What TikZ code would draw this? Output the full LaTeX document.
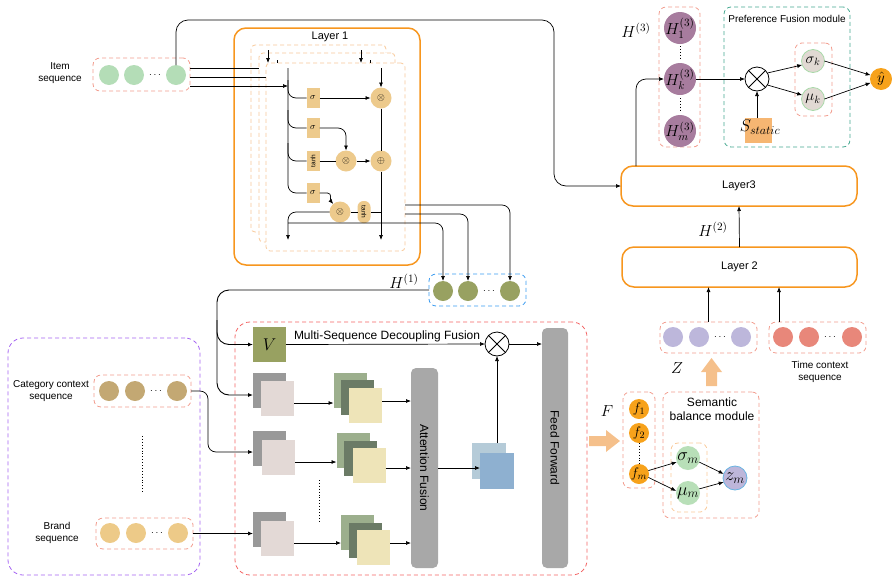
\RequirePackage{fix-cm}
\documentclass[tikz,border=0pt]{standalone}
\usepackage[no-math]{fontspec}
\setmainfont{Liberation Sans}
\usepackage{graphicx}
\usetikzlibrary{arrows.meta,calc}
\definecolor{salm}{HTML}{F29C8E}
\definecolor{redd}{HTML}{F36464}
\definecolor{lorange}{HTML}{F7961E}
\definecolor{peach}{HTML}{F9C999}
\definecolor{purp}{HTML}{A463F2}
\definecolor{teal2}{HTML}{45A890}
\definecolor{bluedash}{HTML}{3A9BF0}
\definecolor{itemg}{HTML}{B4DDB7}
\definecolor{olive}{HTML}{98A161}
\definecolor{tanc}{HTML}{EDCA8C}
\definecolor{catc}{HTML}{C3A873}
\definecolor{brandc}{HTML}{EDCA88}
\definecolor{lav}{HTML}{BDB7DB}
\definecolor{timec}{HTML}{E8877A}
\definecolor{mauve}{HTML}{A77C9E}
\definecolor{sigk}{HTML}{E1D9D3}
\definecolor{sigkb}{HTML}{A9D9A9}
\definecolor{yhat}{HTML}{F7A21B}
\definecolor{sigm}{HTML}{B8DFB8}
\definecolor{zmc}{HTML}{BDB6DA}
\definecolor{zmb}{HTML}{6AB4E2}
\definecolor{sstat}{HTML}{F6B672}
\definecolor{bigarr}{HTML}{F5C08B}
\definecolor{grayA}{HTML}{999999}
\definecolor{pinkA}{HTML}{E3D9D6}
\definecolor{gr1}{HTML}{9CAF8D}
\definecolor{gr2}{HTML}{6B7B66}
\definecolor{cream}{HTML}{EEE4B8}
\definecolor{bl1}{HTML}{B5CBD8}
\definecolor{bl2}{HTML}{8EB0D0}
\definecolor{barg}{HTML}{A8A8A8}
\begin{document}
\begin{tikzpicture}[x=1pt,y=-1pt,
  every node/.style={inner sep=0pt, outer sep=0pt},
  ln/.style={line width=0.7pt},
  arr/.style={line width=0.7pt,-{Latex[length=5pt,width=4pt]}},
  dbox/.style={draw=#1, dash pattern=on 4pt off 3pt, line width=0.8pt, rounded corners=7pt},
  seqdot/.style={circle, minimum size=20pt, fill=#1},
  gate/.style={fill=tanc, minimum width=13pt, minimum height=20pt, font=\fontsize{9}{9}\selectfont},
  opc/.style={circle, fill=tanc, minimum size=21pt, font=\fontsize{10}{10}\selectfont},
  layerbox/.style={draw=lorange, line width=1.5pt, rounded corners=12pt, fill=white},
  lbl/.style={font=\fontsize{10}{12}\selectfont, align=center},
  sq/.style={minimum width=33pt, minimum height=35pt, fill=#1},
  bar/.style={fill=barg, rounded corners=5pt},
  mlbl/.style={font=\fontsize{16}{16}\selectfont},
  xcirc/.style={circle, draw, fill=white, line width=0.8pt, minimum size=24pt,
    path picture={\draw[line width=0.8pt] (path picture bounding box.north west) -- (path picture bounding box.south east)
      (path picture bounding box.north east) -- (path picture bounding box.south west);}},
]
\useasboundingbox (0,0) rectangle (892,579);

% ---------------- Item sequence ----------------
\node[dbox=salm, minimum width=97pt, minimum height=33pt] (itembox) at (141.5,74.5) {};
\node[seqdot=itemg] (i1) at (109,75) {};
\node[seqdot=itemg] (i2) at (134,75) {};
\node[seqdot=itemg] (i3) at (176,75) {};
\node (idots) at (155,75) {$\cdots$};
\node[lbl] (itemlbl) at (60,73) {Item\\sequence};

% ---------------- Layer 1 ----------------
\node[layerbox, minimum width=186pt, minimum height=237pt] (l1) at (327,146.5) {};
\node[font=\fontsize{11}{11}\selectfont] (l1t) at (330,37) {Layer 1};
\node[dbox=peach, fill=white, rounded corners=4pt, minimum width=135pt, minimum height=187pt] (r1) at (318.5,138.5) {};
\node[dbox=peach, fill=white, rounded corners=4pt, minimum width=136pt, minimum height=189pt] (r2) at (327,147.5) {};
\node[dbox=peach, fill=white, rounded corners=4pt, minimum width=139pt, minimum height=188pt] (r3) at (335.5,157) {};

\coordinate (sa1) at (268,50); \coordinate (sa1e) at (268,63);
\coordinate (sa2) at (361,50); \coordinate (sa2e) at (361,63);
\coordinate (st1) at (277,60); \coordinate (st1e) at (277,63);
\coordinate (st2) at (370,60); \coordinate (st2e) at (370,63);
\draw[arr] (sa1) -- (sa1e);
\draw[arr] (sa2) -- (sa2e);
\draw[ln] (st1) -- (st1e);
\draw[ln] (st2) -- (st2e);

% inputs from item sequence
\draw[ln] ($(itembox.east)+(0,-6.5)$) coordinate (in1) -- (in1 -| r2.west);
\draw[ln] ($(itembox.east)+(0,2.5)$) coordinate (in2) -- (in2 -| r3.west);
\coordinate (top1) at (288,68);
\coordinate (top2) at (381,68);
\draw[arr] ($(itembox.east)+(0,11.5)$) coordinate (in3) -- (in3 -| top1);

\node[gate] (g1) at (313,98) {$\sigma$};
\node[gate] (g2) at (313,128) {$\sigma$};
\node[gate, font=\fontsize{6.5}{6.5}\selectfont] (gt) at (313,161) {\rotatebox{90}{tanh}};
\node[gate] (g3) at (313,193) {$\sigma$};
\node[opc] (m1) at (381,98) {$\otimes$};
\node[opc] (m2) at (346,161) {$\otimes$};
\node[opc] (p1) at (381,161) {$\oplus$};
\node[opc] (m3) at (340,212) {$\otimes$};
\node[fill=tanc, rounded corners=6pt, minimum width=13pt, minimum height=22pt, font=\fontsize{6.5}{6.5}\selectfont] (th) at (364,212) {\rotatebox{-90}{tanh}};

\coordinate (b1) at (288,80);
\coordinate (b2) at (288,110);
\coordinate (b3) at (288,143);
\coordinate (bot1) at (288,240);
\coordinate (bot2) at (381,240);
\draw[ln, rounded corners=8pt] (top1) |- (g3.west);
\draw[ln, rounded corners=8pt] (b1) |- (g1.west);
\draw[ln, rounded corners=8pt] (b2) |- (g2.west);
\draw[ln, rounded corners=8pt] (b3) |- (gt.west);
\draw[arr] (top2) -- (m1);
\draw[arr] (g1) -- (m1);
\draw[arr, rounded corners=8pt] (g2.east) -| (m2.north);
\draw[ln] (gt) -- (m2);
\draw[arr] (m2) -- (p1);
\draw[ln] (m1) -- (p1);
\draw[arr] (p1) -- (bot2);
\draw[ln] (th.east) -- (th.east -| p1);
\draw[arr] (g3.east) -- ++(8,0) to[out=0,in=130] (m3.130);
\draw[ln] (m3) -- (th);
\draw[arr, rounded corners=8pt] (m3.west) -| (bot1);

% ---------------- H1 ----------------
\node[dbox=bluedash, minimum width=97pt, minimum height=32pt] (h1box) at (477.5,290) {};
\node[seqdot=olive] (h1a) at (443,291) {};
\node[seqdot=olive] (h1b) at (468,291) {};
\node[seqdot=olive] (h1c) at (510,291) {};
\node (h1dots) at (489,291) {$\cdots$};
\node[mlbl] (h1lbl) at (404,281) {$H^{(1)}$};
\coordinate (o1) at (288,223);
\coordinate (o2) at (405,214);
\coordinate (o3) at (405,205);
\draw[arr, rounded corners=8pt] (o1) -| (h1a.north);
\draw[arr, rounded corners=8pt] (o2) -| (h1b.north);
\draw[arr, rounded corners=8pt] (o3) -| (h1c.north);

% ---------------- Multi-sequence decoupling fusion ----------------
\node[dbox=redd, rounded corners=15pt, minimum width=352pt, minimum height=253pt] (msbox) at (411,448.5) {};
\node[fill=olive, minimum width=33pt, minimum height=35pt, font=\fontsize{17}{17}\selectfont] (vbox) at (269.5,344.5) {$V$};
\node[anchor=south west, font=\fontsize{12}{12}\selectfont] (mst) at (294,342) {Multi-Sequence Decoupling Fusion};
\node[xcirc] (mx) at (497,344) {};
\node[bar, minimum width=26pt, minimum height=240pt] (ff) at (555,448) {\rotatebox{-90}{\fontsize{12}{12}\selectfont Feed Forward}};
\node[bar, minimum width=27pt, minimum height=200pt] (att) at (424.5,468) {\rotatebox{-90}{\fontsize{12}{12}\selectfont Attention Fusion}};

\node[sq=grayA] (ga1) at (269.5,390) {};
\node[sq=pinkA] (pa1) at (277.5,398.5) {};
\node[sq=gr1] (sa1) at (350,390.5) {};
\node[sq=gr2] (sb1) at (357.5,397) {};
\node[sq=cream] (sc1) at (365.5,405) {};

\node[sq=grayA] (ga2) at (269.5,448) {};
\node[sq=pinkA] (pa2) at (278.5,457.5) {};
\node[sq=gr1] (sa2) at (353,450.5) {};
\node[sq=gr2] (sb2) at (360.5,458) {};
\node[sq=cream] (sc2) at (369,465) {};

\node[sq=grayA] (ga3) at (269.5,529) {};
\node[sq=pinkA] (pa3) at (277.5,538.5) {};
\node[sq=gr1] (sa3) at (357.5,532.5) {};
\node[sq=gr2] (sb3) at (365.5,540.5) {};
\node[sq=cream] (sc3) at (373.5,547.5) {};

\draw[arr] ($(pa1.east)+(0,4.5)$) coordinate (a1s) -- (a1s -| sa1.west);
\draw[arr] ($(pa2.east)+(0,4.5)$) coordinate (a2s) -- (a2s -| sa2.west);
\draw[arr] ($(pa3.east)+(0,4.5)$) coordinate (a3s) -- (a3s -| sa3.west);
\draw[arr] ($(sc1.east)+(0,-4)$) coordinate (c1s) -- (c1s -| att.west);
\draw[arr] ($(sc2.east)+(0,3)$) coordinate (c2s) -- (c2s -| att.west);
\draw[arr] ($(sc3.east)+(0,-4.5)$) coordinate (c3s) -- (c3s -| att.west);
\coordinate (md1) at (319,480); \coordinate (md2) at (319,522);
\draw[dotted, line width=0.9pt] (md1) -- (md2);

\node[minimum width=34pt, minimum height=36pt, fill=bl1] (bq1) at (489,461) {};
\node[minimum width=34pt, minimum height=36pt, fill=bl2] (bq2) at (497,471) {};
\draw[arr] (att.east) -- (att.east -| bq2.west);
\draw[arr] (bq2.north |- bq1.north) -- (mx.south);
\draw[arr] (vbox.east) -- (mx.west);
\draw[arr] (mx.east) -- (mx.east -| ff.west);

% from H1 to V and first row
\coordinate (vcorner) at (217,370);
\coordinate (vbranch) at (217,320);
\draw[arr, line width=0.9pt, rounded corners=12pt] (h1box.west) -| (vcorner) |- ($(ga1.west)+(0,5)$);
\draw[arr, line width=0.9pt, rounded corners=12pt] (vbranch) |- (vbox.west);

% ---------------- Category / brand ----------------
\node[dbox=purp, rounded corners=15pt, minimum width=192pt, minimum height=237pt] (pbox) at (104,456.5) {};
\node[dbox=salm, minimum width=97pt, minimum height=32pt] (catbox) at (142.5,391) {};
\node[seqdot=catc] (c1) at (109,391) {};
\node[seqdot=catc] (c2) at (135,391) {};
\node[seqdot=catc] (c3) at (177,391) {};
\node (cdots) at (156,391) {$\cdots$};
\node[lbl] (catlbl) at (51,391) {Category context\\sequence};
\node[dbox=salm, minimum width=97pt, minimum height=31pt] (brandbox) at (144.5,533.5) {};
\node[seqdot=brandc] (bb1) at (110,533) {};
\node[seqdot=brandc] (bb2) at (136,533) {};
\node[seqdot=brandc] (bb3) at (178,533) {};
\node (bdots) at (157,533) {$\cdots$};
\node[lbl] (brandlbl) at (57,533) {Brand\\sequence};
\coordinate (pd1) at (142,436); \coordinate (pd2) at (142,493);
\draw[dotted, line width=0.9pt] (pd1) -- (pd2);
\coordinate (catcorner) at (208,420);
\draw[arr, rounded corners=8pt] (catbox.east) -| (catcorner) |- ($(ga2.west)+(0,4)$);
\draw[arr] (brandbox.east) -- (brandbox.east -| ga3.west);

% ---------------- Layers 2 and 3 ----------------
\node[layerbox, minimum width=236pt, minimum height=40pt, font=\fontsize{11}{11}\selectfont] (l3) at (739,186) {Layer3};
\node[layerbox, minimum width=235pt, minimum height=40pt, font=\fontsize{11}{11}\selectfont] (l2) at (739.5,267) {Layer 2};
\draw[arr] (l2.north) -- (l3.south);
\node[mlbl] (h2lbl) at (713,229) {$H^{(2)}$};
\coordinate (toproute) at (554,20);
\draw[arr, rounded corners=12pt] (i3.north) |- (toproute) |- (l3.west);

% Z and time
\node[dbox=salm, minimum width=97pt, minimum height=31pt] (zbox) at (708.5,337.5) {};
\node[seqdot=lav] (z1) at (673,337) {};
\node[seqdot=lav] (z2) at (699,337) {};
\node[seqdot=lav] (z3) at (741,337) {};
\node (zdots) at (720,337) {$\cdots$};
\node[dbox=salm, minimum width=97pt, minimum height=31pt] (tbox) at (817.5,337.5) {};
\node[seqdot=timec] (t1) at (783,337) {};
\node[seqdot=timec] (t2) at (809,337) {};
\node[seqdot=timec] (t3) at (852,337) {};
\node (tdots) at (830,337) {$\cdots$};
\node[lbl] (tlbl) at (820,372) {Time context\\sequence};
\node[mlbl] (zlbl) at (677,368) {$Z$};
\draw[arr] (zbox.north) -- (zbox.north |- l2.south);
\draw[arr] ($(tbox.north west)+(10,0)$) coordinate (tin) -- (tin |- l2.south);
\fill[bigarr] (706,386) -- (706,372) -- (701,372) -- (711.5,358) -- (722,372) -- (717,372) -- (717,386) -- cycle;

% ---------------- H3 and preference fusion ----------------
\node[dbox=salm, minimum width=41pt, minimum height=140pt] (h3box) at (679.5,77) {};
\node[circle, fill=mauve, minimum size=32pt, label={[mlbl]center:$H_1^{(3)}$}] (h31) at (680,28) {};
\node[circle, fill=mauve, minimum size=32pt, label={[mlbl]center:$H_k^{(3)}$}] (hk) at (680,79) {};
\node[circle, fill=mauve, minimum size=32pt, label={[mlbl]center:$H_m^{(3)}$}] (h3m) at (680,131) {};
\coordinate (hd1) at (680,46); \coordinate (hd2) at (680,60);
\coordinate (hd3) at (680,98); \coordinate (hd4) at (680,112);
\draw[dotted, line width=0.9pt] (hd1) -- (hd2);
\draw[dotted, line width=0.9pt] (hd3) -- (hd4);
\node[mlbl] (h3lbl) at (636,30) {$H^{(3)}$};
\coordinate (l3up) at (636,166);
\draw[arr, rounded corners=10pt] (l3up) |- (hk.west);

\node[dbox=teal2, minimum width=126pt, minimum height=140pt] (pfbox) at (787,77) {};
\node[font=\fontsize{10}{10}\selectfont] (pft) at (787,19) {Preference Fusion module};
\node[xcirc] (px) at (757,79) {};
\node[fill=sstat, minimum width=27pt, minimum height=25pt] (ss) at (758.5,130.5) {};
\node[font=\fontsize{17}{17}\selectfont] (sslbl) at (760,127) {$S_{static}$};
\draw[arr] (ss.north -| px) -- (px.south);
\draw[arr] (hk.east) -- (px.west);
\node[dbox=salm, minimum width=37pt, minimum height=73pt] (skbox) at (813.5,79.5) {};
\node[circle, fill=sigk, draw=sigkb, line width=0.8pt, minimum size=23pt, label={[font=\fontsize{15}{15}\selectfont]center:$\sigma_k$}] (sk) at (813,61) {};
\node[circle, fill=sigk, draw=sigkb, line width=0.8pt, minimum size=23pt, label={[font=\fontsize{15}{15}\selectfont]center:$\mu_k$}] (mk) at (813,99) {};
\node[circle, fill=yhat, minimum size=22pt, label={[font=\fontsize{15}{15}\selectfont]center:$\hat{y}$}] (yh) at (881,79) {};
\draw[arr] (px.30) -- (sk.200);
\draw[arr] (px.-30) -- (mk.160);
\draw[arr] (sk.east) -- (yh.160);
\draw[arr] (mk.east) -- (yh.200);

% ---------------- F and semantic balance ----------------
\fill[bigarr] (589,436) -- (606,436) -- (606,430) -- (620,441) -- (606,452) -- (606,446) -- (589,446) -- cycle;
\node[dbox=salm, minimum width=32pt, minimum height=96pt] (fbox) at (639,440) {};
\node[circle, fill=yhat, minimum size=20pt, label={[font=\fontsize{14}{14}\selectfont]center:$f_1$}] (f1) at (639,409) {};
\node[circle, fill=yhat, minimum size=20pt, label={[font=\fontsize{14}{14}\selectfont]center:$f_2$}] (f2) at (639,433) {};
\node[circle, fill=yhat, minimum size=20pt, label={[font=\fontsize{14}{14}\selectfont]center:$f_m$}] (fm) at (639,474) {};
\draw[dotted, line width=0.9pt] (f2.south) -- (fm.north);
\node[mlbl] (flbl) at (607,411) {$F$};
\node[dbox=salm, minimum width=96pt, minimum height=126pt] (sbbox) at (711,455) {};
\node[font=\fontsize{12}{14.5}\selectfont, align=center] (sbt) at (712,409) {Semantic\\balance module};
\node[dbox=peach, minimum width=36pt, minimum height=69pt] (smbox) at (689,477.5) {};
\node[circle, fill=sigm, minimum size=24pt, label={[font=\fontsize{18}{18}\selectfont]center:$\sigma_m$}] (sm) at (688,458) {};
\node[circle, fill=sigm, minimum size=24pt, label={[font=\fontsize{18}{18}\selectfont]center:$\mu_m$}] (mm) at (688,493) {};
\node[circle, fill=zmc, draw=zmb, line width=0.8pt, minimum size=24pt, label={[font=\fontsize{18}{18}\selectfont]center:$z_m$}] (zmn) at (735,478) {};
\draw[arr] (fm.20) -- (sm.200);
\draw[arr] (fm.-20) -- (mm.170);
\draw[arr] (sm.-20) -- (zmn.160);
\draw[arr] (mm.20) -- (zmn.200);
\end{tikzpicture}
\end{document}
